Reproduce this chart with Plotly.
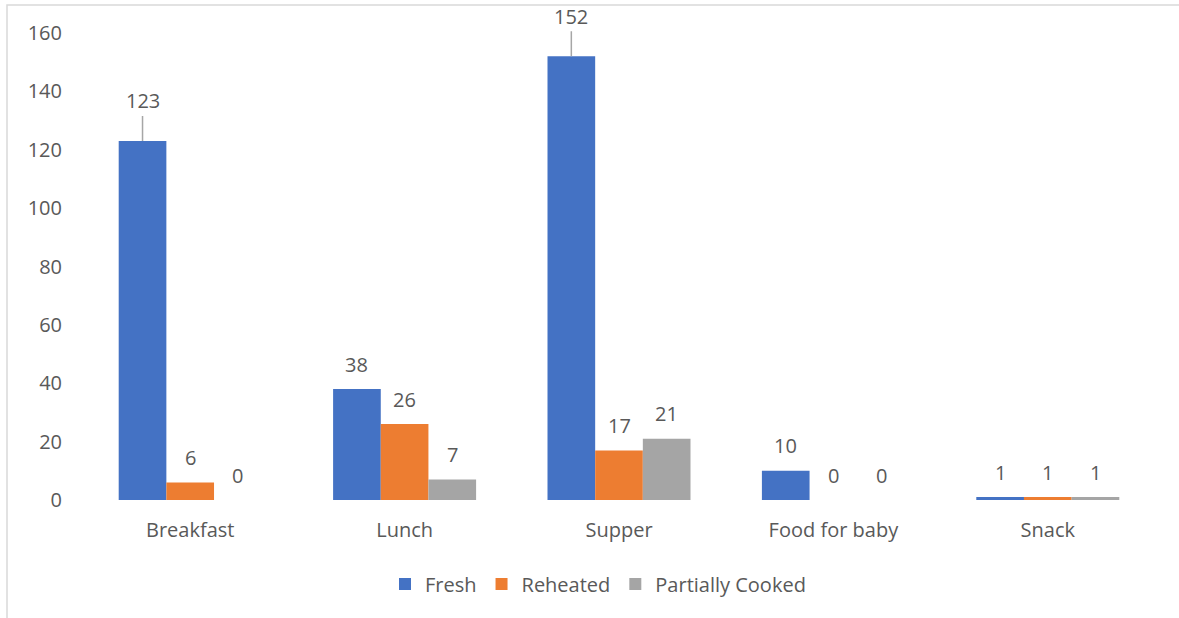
import plotly.graph_objects as go

categories = ["Breakfast", "Lunch", "Supper", "Food for baby", "Snack"]
fresh = [123, 38, 152, 10, 1]
reheated = [6, 26, 17, 0, 1]
partially = [0, 7, 21, 0, 1]
series_names = ["Fresh", "Reheated", "Partially Cooked"]
series_values = [fresh, reheated, partially]
colors = ["#4472C4", "#ED7D31", "#A5A5A5"]
# labels drawn with a leader line (series index, category index)
leader_labels = {(0, 0), (0, 2)}

W, H = 1179, 618
ML, MR, MT, MB = 83, 24, 33, 118
FONT = "Open Sans"
TXT = "#595959"
BARGAP = 0.333

fig = go.Figure()
for name, vals, col in zip(series_names, series_values, colors):
    fig.add_trace(go.Bar(name=name, x=categories, y=vals, marker_color=col,
                         marker_line_width=0))

plot_w = W - ML - MR
cat_w = plot_w / len(categories)
bar_w = cat_w * (1 - BARGAP) / len(series_values)

annotations = []
for si, vals in enumerate(series_values):
    for ci, v in enumerate(vals):
        xs = (si - 1) * bar_w
        if (si, ci) in leader_labels:
            annotations.append(dict(x=categories[ci], y=v, xref="x", yref="y",
                                    text=str(v), showarrow=True, arrowhead=0,
                                    arrowwidth=1.5, arrowcolor="#A6A6A6",
                                    ax=0, ay=-40, xshift=xs, standoff=0,
                                    font=dict(family=FONT, size=20, color=TXT)))
        else:
            annotations.append(dict(x=categories[ci], y=v, xref="x", yref="y",
                                    text=str(v), showarrow=False, xshift=xs,
                                    yshift=25, yanchor="middle",
                                    font=dict(family=FONT, size=20, color=TXT)))

fig.update_layout(
    width=W, height=H,
    margin=dict(l=ML, r=MR, t=MT, b=MB, autoexpand=False),
    paper_bgcolor="white", plot_bgcolor="white",
    barmode="group", bargap=BARGAP, bargroupgap=0,
    font=dict(family=FONT, size=20, color=TXT),
    annotations=annotations,
    showlegend=True,
    legend=dict(orientation="h", x=(598 - ML) / plot_w, xanchor="center",
                y=-(584 - (H - MB)) / (H - MT - MB), yanchor="middle",
                font=dict(family=FONT, size=20, color=TXT),
                itemwidth=30, traceorder="normal"),
    shapes=[dict(type="rect", xref="paper", yref="paper",
                 x0=(7 - ML) / plot_w, x1=(W + 10 - ML) / plot_w,
                 y0=-(H + 10 - (H - MB)) / (H - MT - MB),
                 y1=1 + (MT - 5) / (H - MT - MB),
                 line=dict(color="#D9D9D9", width=1.5), layer="below")],
)
fig.update_yaxes(range=[0, 160], dtick=20, showgrid=False, zeroline=False,
                 showline=False, ticks="", ticklabelstandoff=20,
                 automargin=False,
                 tickfont=dict(family=FONT, size=20, color=TXT))
fig.update_xaxes(showgrid=False, showline=False, ticks="",
                 ticklabelstandoff=16, automargin=False,
                 tickfont=dict(family=FONT, size=20, color=TXT))

fig.write_html("out.html")
